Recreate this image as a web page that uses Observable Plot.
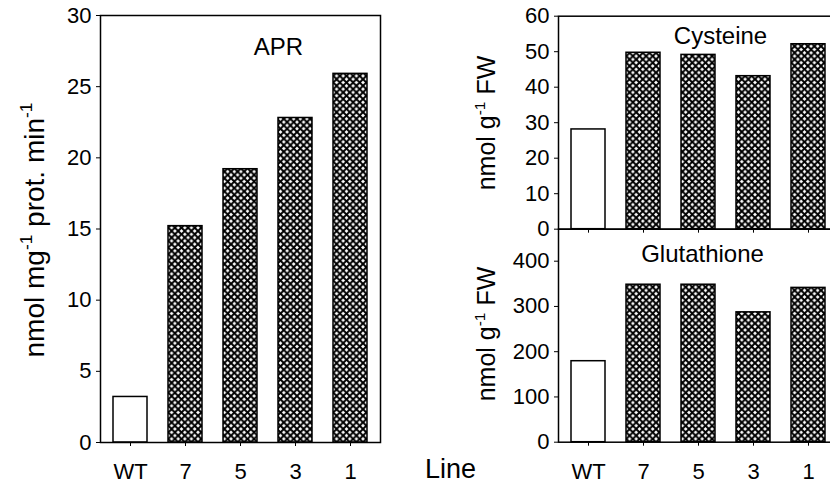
<!DOCTYPE html>
<html>
<head>
<meta charset="utf-8">
<script src="https://cdn.jsdelivr.net/npm/d3@7"></script>
<script src="https://cdn.jsdelivr.net/npm/@observablehq/plot@0.6"></script>
<style>
  html, body { margin: 0; padding: 0; background: white; overflow: hidden; }
  #wrap { position: relative; width: 830px; height: 487px; overflow: hidden; font-family: "Liberation Sans", Arial, sans-serif; }
  #wrap > svg { position: absolute; top: 0; }
</style>
</head>
<body>
<div id="wrap"></div>
<script>
// ---- data ----
const lines = ["WT", "7", "5", "3", "1"];
const groups = ["WT", "transgenic", "transgenic", "transgenic", "transgenic"];
const apr = [3.2, 15.2, 19.2, 22.8, 25.9];
const cysteine = [28.1, 49.7, 49.1, 43.1, 52.1];
const glutathione = [179, 348, 348, 287, 341];
const aprTicks = [0, 5, 10, 15, 20, 25, 30];
const cysTicks = [0, 10, 20, 30, 40, 50, 60];
const gshTicks = [0, 100, 200, 300, 400];

const FONT = "Liberation Sans, Arial, sans-serif";
const wrap = document.getElementById("wrap");

function addPattern(svg, id) {
  const ns = "http://www.w3.org/2000/svg";
  const defs = document.createElementNS(ns, "defs");
  defs.innerHTML = `<pattern id="${id}" patternUnits="userSpaceOnUse" width="6.6" height="6.6">
      <rect width="6.6" height="6.6" fill="white"/>
      <path d="M-1,-1L7.6,7.6M7.6,-1L-1,7.6" stroke="black" stroke-width="2"/>
    </pattern>`;
  svg.insertBefore(defs, svg.firstChild);
}

function panel({values, domain, ticks, marginTop, marginBottom, height, title, titleDx, titleDy, showX, id, left}) {
  const data = lines.map((l, i) => ({line: l, group: groups[i], value: values[i]}));
  const svg = Plot.plot({
    width: 400,
    height,
    marginLeft: 100,
    marginRight: 20,
    marginTop,
    marginBottom,
    style: {background: "transparent", overflow: "visible", fontFamily: FONT, fontSize: "22px", color: "black"},
    x: {domain: lines, paddingInner: 0.375, paddingOuter: 0.205, label: null, tickSize: 4,
        tickPadding: 17, tickFormat: showX ? (d) => d : () => ""},
    y: {domain, ticks, label: null, tickSize: 4, tickPadding: 5},
    color: {domain: ["WT", "transgenic"], range: ["white", `url(#${id})`]},
    marks: [
      Plot.barY(data, {x: "line", y: "value", fill: "group", stroke: "black", strokeWidth: 1.5}),
      Plot.frame({strokeWidth: 1.5}),
      Plot.text([title], {frameAnchor: "top", lineAnchor: "top", dx: titleDx, dy: titleDy, fontSize: 24, fill: "black"})
    ]
  });
  addPattern(svg, id);
  svg.style.left = left + "px";
  wrap.appendChild(svg);
}

panel({values: apr, domain: [0, 30], ticks: aprTicks, marginTop: 15, marginBottom: 45, height: 487,
       title: "APR", titleDx: 38, titleDy: 22, showX: true, id: "xh1", left: 0});
panel({values: cysteine, domain: [0, 60], ticks: cysTicks, marginTop: 15.7, marginBottom: 0, height: 228.7,
       title: "Cysteine", titleDx: 22, titleDy: 11, showX: false, id: "xh2", left: 457.7});
panel({values: glutathione, domain: [0, 470.7], ticks: gshTicks, marginTop: 228.7, marginBottom: 45.3, height: 487,
       title: "Glutathione", titleDx: 4, titleDy: 16, showX: true, id: "xh3", left: 457.7});

// ---- overlay labels ----
const ov = d3.select(wrap).append("svg")
  .attr("width", 830).attr("height", 487)
  .style("left", "0px")
  .attr("font-family", FONT)
  .attr("fill", "black");

function ylab(x, y, parts, size) {
  const t = ov.append("text")
    .attr("transform", `translate(${x},${y}) rotate(-90)`)
    .attr("text-anchor", "middle")
    .attr("font-size", size);
  let prevSup = false;
  parts.forEach(([s, sup]) => {
    const dy = sup ? -size * 0.42 : (prevSup ? size * 0.42 : 0);
    const ts = t.append("tspan").attr("dy", dy).text(s);
    if (sup) ts.attr("font-size", size * 0.62);
    prevSup = sup;
  });
}
ylab(44, 230, [["nmol mg", false], ["-1", true], [" prot. min", false], ["-1", true]], 28);
ylab(495, 123, [["nmol g", false], ["-1", true], [" FW", false]], 25);
ylab(495, 334, [["nmol g", false], ["-1", true], [" FW", false]], 25);

ov.append("text").attr("x", 425).attr("y", 478).attr("font-size", 27).text("Line");
</script>
</body>
</html>
